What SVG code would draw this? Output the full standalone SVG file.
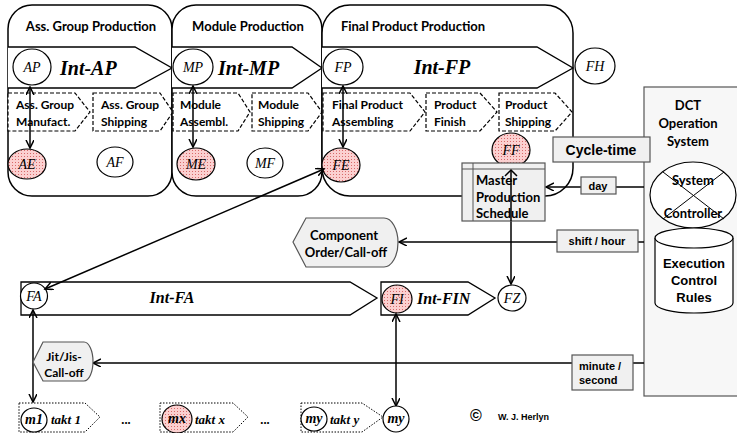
<svg xmlns="http://www.w3.org/2000/svg" width="737" height="433" viewBox="0 0 737 433">
<defs>
<pattern id="pk" width="3" height="3" patternUnits="userSpaceOnUse"><rect width="3" height="3" fill="#fbd0d0"/><rect width="1" height="1" fill="#d86a6a"/></pattern>
<marker id="ar" markerWidth="10" markerHeight="10" refX="8" refY="4" orient="auto-start-reverse" markerUnits="userSpaceOnUse"><path d="M0,0 L8,4 L0,8" fill="none" stroke="#000" stroke-width="1.5"/></marker>
<style>
.pan{fill:#fff;stroke:#000;stroke-width:1.5}
.band{fill:#fff;stroke:#000;stroke-width:1.3}
.dash{fill:#fff;stroke:#000;stroke-width:1.2;stroke-dasharray:4,2}
.dot{fill:#fff;stroke:#000;stroke-width:1;stroke-dasharray:1.5,1.5}
.c{fill:#fff;stroke:#000;stroke-width:1.2}
.cp{fill:url(#pk);stroke:#000;stroke-width:1.2}
.gb{fill:#f0f0f0;stroke:#555;stroke-width:1.2}
.t{font-family:Lato,"Liberation Sans",sans-serif;font-weight:bold;font-size:13px;fill:#000}
.p{font-family:Lato,"Liberation Sans",sans-serif;font-weight:bold;font-size:12px;fill:#000}
.a{font-family:"Liberation Sans",Arial,sans-serif;font-weight:bold;fill:#000}
.s{font-family:"Liberation Serif",serif;font-style:italic;font-size:14px;fill:#000;text-anchor:middle}
.ib{font-family:"Liberation Serif",serif;font-style:italic;font-weight:bold;fill:#000}
.ln{stroke:#000;stroke-width:1.5;fill:none}
.m{text-anchor:middle}
</style>
</defs>

<g id="panel-ass-group">
<rect class="pan" x="8" y="5" width="164" height="191" rx="24"/>
<text class="t m" x="91" y="31">Ass. Group Production</text>
<polyline class="band" points="8,47 135,47 172,68 135,88 8,88"/>
<text class="ib" x="60" y="75" font-size="20">Int-AP</text>
<polygon class="dash" points="8,93 75,93 90,112 75,131 8,131"/>
<text class="p" x="16" y="109">Ass. Group</text><text class="p" x="16" y="126">Manufact.</text>
<polygon class="dash" points="93,93 160,93 173,112 160,131 93,131"/>
<text class="p" x="101" y="109">Ass. Group</text><text class="p" x="101" y="126">Shipping</text>
</g>
<g id="panel-module">
<rect class="pan" x="172" y="5" width="150" height="191" rx="24"/>
<text class="t m" x="248" y="31">Module Production</text>
<polyline class="band" points="172,47 292,47 322,68 292,88 172,88"/>
<text class="ib" x="218" y="75" font-size="20">Int-MP</text>
<polygon class="dash" points="173,93 238,93 250,112 238,131 173,131"/>
<text class="p" x="180" y="109">Module</text><text class="p" x="180" y="126">Assembl.</text>
<polygon class="dash" points="252,93 308,93 322,112 308,131 252,131"/>
<text class="p" x="258" y="109">Module</text><text class="p" x="258" y="126">Shipping</text>
</g>
<g id="panel-final">
<rect class="pan" x="322" y="5" width="251" height="191" rx="28"/>
<text class="t m" x="413" y="31">Final Product Production</text>
<polyline class="band" points="322,47 537,47 573,68 537,88 322,88"/>
<text class="ib m" x="442" y="74" font-size="20">Int-FP</text>
<polygon class="dash" points="323,93 410,93 425,112 410,131 323,131"/>
<text class="p" x="332" y="109">Final Product</text><text class="p" x="332" y="126">Assembling</text>
<polygon class="dash" points="426,93 480,93 497,112 480,131 426,131"/>
<text class="p" x="434" y="109">Product</text><text class="p" x="434" y="126">Finish</text>
<polygon class="dash" points="499,93 555,93 572,112 555,131 499,131"/>
<text class="p" x="505" y="109">Product</text><text class="p" x="505" y="126">Shipping</text>
</g>

<g id="node-AP"><ellipse class="c" cx="32" cy="67" rx="19" ry="18"/><text class="s" x="32" y="72">AP</text></g>
<g id="node-AE"><ellipse class="cp" cx="27" cy="164" rx="19" ry="15"/><text class="s" x="27" y="169">AE</text></g>
<g id="node-AF"><ellipse class="c" cx="115" cy="162" rx="18" ry="15"/><text class="s" x="115" y="167">AF</text></g>
<g id="node-MP"><ellipse class="c" cx="193" cy="67" rx="20" ry="18"/><text class="s" x="193" y="72">MP</text></g>
<g id="node-ME"><ellipse class="cp" cx="196" cy="164" rx="19" ry="16"/><text class="s" x="196" y="169">ME</text></g>
<g id="node-MF"><ellipse class="c" cx="265" cy="163" rx="18" ry="15"/><text class="s" x="265" y="168">MF</text></g>
<g id="node-FP"><ellipse class="c" cx="343" cy="67" rx="20" ry="18"/><text class="s" x="343" y="72">FP</text></g>
<g id="node-FE"><ellipse class="cp" cx="341" cy="165" rx="19" ry="17"/><text class="s" x="341" y="170">FE</text></g>
<g id="node-FH"><ellipse class="c" cx="595" cy="66" rx="20" ry="18"/><text class="s" x="595" y="71">FH</text></g>

<g id="dct-system">
<rect x="644" y="87" width="100" height="309" fill="#f7f7f7" stroke="#555" stroke-width="1.2"/>
<text class="t m" x="688" y="110" font-size="14">DCT</text>
<text class="t m" x="688" y="128" font-size="14">Operation</text>
<text class="t m" x="688" y="146" font-size="14">System</text>
<ellipse cx="693" cy="195" rx="43" ry="33" fill="#fff" stroke="#000" stroke-width="1.2"/>
<line x1="663" y1="172" x2="724" y2="219" stroke="#000" stroke-width="1"/>
<line x1="663" y1="219" x2="724" y2="172" stroke="#000" stroke-width="1"/>
<text class="t m" x="693" y="185" font-size="15">System</text>
<text class="t m" x="693" y="218" font-size="15">Controller</text>
<path d="M655,238 L655,303 A39,10 0 0 0 733,303 L733,238" fill="#fff" stroke="#000" stroke-width="1.2"/>
<ellipse cx="694" cy="238" rx="39" ry="10" fill="#fff" stroke="#000" stroke-width="1.2"/>
<text class="a m" x="694" y="268" font-size="13">Execution</text>
<text class="a m" x="694" y="285" font-size="13">Control</text>
<text class="a m" x="694" y="302" font-size="13">Rules</text>
</g>

<g id="int-FA">
<polygon class="band" points="21,282 350,282 377,298 350,315 21,315"/>
<text class="ib m" x="172" y="303" font-size="16" font-weight="normal">Int-FA</text>
<ellipse class="c" cx="34" cy="296" rx="13.5" ry="13"/><text class="s" x="34" y="301" font-size="13">FA</text>
</g>
<g id="int-FIN">
<polygon class="band" points="381,282 468,282 495,298 468,315 381,315"/>
<ellipse class="cp" cx="397" cy="299" rx="15" ry="14"/><text class="s" x="397" y="304" font-size="13">FI</text>
<text class="ib" x="417" y="304" font-size="16" font-weight="normal">Int-FIN</text>
</g>
<g id="node-FZ"><ellipse class="c" cx="512" cy="298" rx="14" ry="13"/><text class="s" x="512" y="303" font-size="13">FZ</text></g>

<g id="connectors">
<line class="ln" x1="30" y1="87" x2="30" y2="148" marker-start="url(#ar)" marker-end="url(#ar)"/>
<line class="ln" x1="193" y1="86" x2="193" y2="147" marker-start="url(#ar)" marker-end="url(#ar)"/>
<line class="ln" x1="343" y1="86" x2="343" y2="147" marker-start="url(#ar)" marker-end="url(#ar)"/>
<line class="ln" x1="324" y1="169" x2="45" y2="289" marker-start="url(#ar)" marker-end="url(#ar)"/>
<line class="ln" x1="511" y1="168" x2="511" y2="284" marker-start="url(#ar)" marker-end="url(#ar)"/>
<line class="ln" x1="644" y1="187" x2="546" y2="187" marker-end="url(#ar)"/>
<line class="ln" x1="644" y1="242" x2="399" y2="242" marker-end="url(#ar)"/>
<line class="ln" x1="644" y1="363" x2="93" y2="363" marker-end="url(#ar)"/>
<line class="ln" x1="33" y1="310" x2="33" y2="402" marker-start="url(#ar)" marker-end="url(#ar)"/>
<line class="ln" x1="396" y1="314" x2="396" y2="406" marker-start="url(#ar)" marker-end="url(#ar)"/>
</g>

<g id="cycle-time"><rect class="gb" x="553" y="137" width="97" height="25"/><text class="a m" x="601" y="155" font-size="14">Cycle-time</text></g>

<g id="node-FF"><ellipse class="cp" cx="511" cy="150" rx="19" ry="17"/><text class="s" x="511" y="155">FF</text></g>

<g id="master-schedule">
<rect class="gb" x="462" y="163" width="83" height="58"/>
<line x1="462" y1="169" x2="545" y2="169" stroke="#555" stroke-width="1"/>
<line x1="473" y1="163" x2="473" y2="221" stroke="#555" stroke-width="1"/>
<line class="ln" x1="511" y1="170" x2="511" y2="221"/>
<path d="M505,176 L511,170 L517,176" fill="none" stroke="#000" stroke-width="1.5"/>
<text class="t" x="476" y="185">Master</text>
<text class="t" x="476" y="202">Production</text>
<text class="t" x="476" y="218">Schedule</text>
</g>

<g id="day-label"><rect class="gb" x="581" y="177" width="35" height="17"/><text class="a m" x="598" y="189.5" font-size="11">day</text></g>
<g id="shift-label"><rect class="gb" x="557" y="230" width="81" height="22"/><text class="a m" x="597" y="245" font-size="11">shift / hour</text></g>
<g id="minute-label"><rect class="gb" x="572" y="355" width="61" height="35"/><text class="a" x="579" y="370" font-size="11">minute /</text><text class="a" x="579" y="384" font-size="11">second</text></g>

<g id="component-order">
<path class="gb" d="M293,242 L306,218 L384,218 A14,24.5 0 0 1 384,267 L306,267 Z"/>
<text class="t m" x="344" y="240">Component</text>
<text class="t m" x="346" y="257">Order/Call-off</text>
</g>

<g id="jit-calloff">
<path class="gb" d="M33,362 L43,342 L84,342 A9,19.5 0 0 1 84,381 L43,381 Z"/>
<text class="p m" x="64" y="361">Jit/Jis-</text>
<text class="p m" x="64" y="377">Call-off</text>
</g>

<g id="takt-1"><polygon class="dot" points="19,403 85,403 100,417 85,432 19,432"/><ellipse class="c" cx="34" cy="420" rx="13" ry="12"/><text class="s" x="34" y="424" font-size="12" font-weight="bold">m1</text><text class="ib" x="51" y="424" font-size="13">takt 1</text></g>
<text class="t m" x="126" y="424">...</text>
<g id="takt-x"><polygon class="dot" points="160,403 233,403 248,417 233,432 160,432"/><ellipse class="cp" cx="177" cy="419" rx="15" ry="14"/><text class="s" x="177" y="423" font-size="12" font-weight="bold">mx</text><text class="ib" x="195" y="424" font-size="13">takt x</text></g>
<text class="t m" x="265" y="424">...</text>
<g id="takt-y"><polygon class="dot" points="301,403 362,403 383,417 362,432 301,432"/><ellipse class="c" cx="314" cy="419" rx="13" ry="12"/><text class="s" x="314" y="423" font-size="12" font-weight="bold">my</text><text class="ib" x="330" y="424" font-size="13">takt y</text></g>
<g id="node-my"><ellipse class="c" cx="396" cy="419" rx="13" ry="13"/><text class="s" x="396" y="423" font-size="12" font-weight="bold">my</text></g>

<g id="copyright"><text class="a" x="470" y="421" font-size="16" font-weight="normal">©</text><text class="a" x="498" y="420" font-size="9">W. J. Herlyn</text></g>
</svg>
